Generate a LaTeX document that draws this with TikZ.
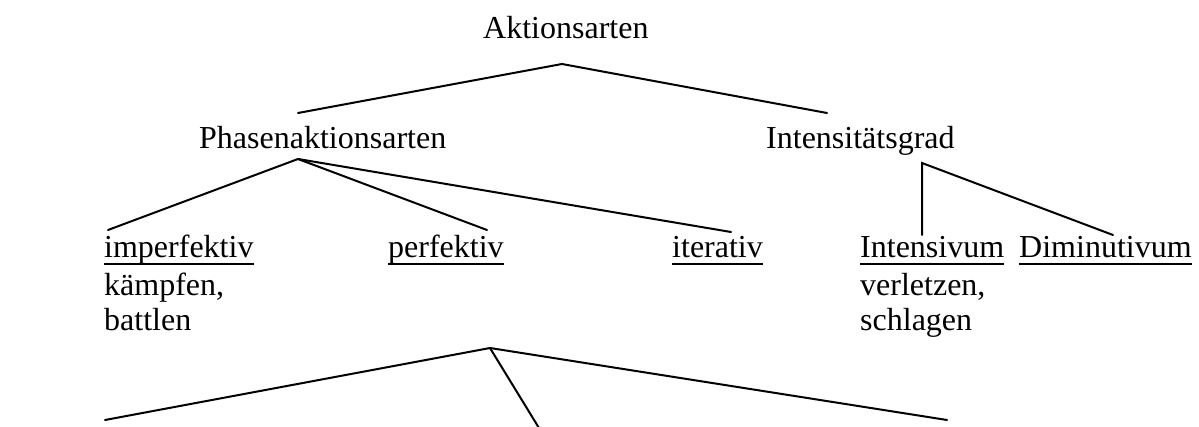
\documentclass[tikz,border=0pt]{standalone}
\usepackage{fontspec}
\setmainfont{Liberation Serif}
\begin{document}
\begin{tikzpicture}[x=1pt,y=-1pt,
  lbl/.style={anchor=base west,inner sep=0pt,font=\fontsize{32}{37}\selectfont},
  branch/.style={line width=2pt,line cap=round,line join=miter},
  uline/.style={line width=2.4pt}]
\useasboundingbox (0,0) rectangle (1199,427);

% labels
\node[lbl] (akt) at (483,39) {Aktionsarten};
\node[lbl] (pha) at (199,149) {Phasenaktionsarten};
\node[lbl] (int) at (766,149) {Intensitätsgrad};
\node[lbl] (imp) at (104,258) {imperfektiv};
\node[lbl] (perf) at (388,258) {perfektiv};
\node[lbl] (iter) at (672,258) {iterativ};
\node[lbl] (intv) at (860,258) {Intensivum};
\node[lbl] (dim) at (1019,258) {Diminutivum};
\node[lbl] (kae) at (104,296) {kämpfen,};
\node[lbl] (bat) at (104,331) {battlen};
\node[lbl] (ver) at (860,296) {verletzen,};
\node[lbl] (sch) at (860,331) {schlagen};

% underlined category names
\foreach \n in {imp,perf,iter,intv,dim}
  \draw[uline] ([yshift=-6pt]\n.base west) -- ([yshift=-6pt]\n.base east);

% branching points
\coordinate (aktR) at (562,64);
\coordinate (aktL1) at (298,113);
\coordinate (aktL2) at (827,113);
\coordinate (phaR) at (298,159);
\coordinate (phaL1) at (108,230);
\coordinate (phaL2) at (487,230);
\coordinate (phaL3) at (731,232);
\coordinate (intR) at (922,163);
\coordinate (intL1) at (922,235);
\coordinate (intL2) at (1113,235);
\coordinate (perR) at (490,348);
\coordinate (perL1) at (105,420);
\coordinate (perL2) at (539,428);
\coordinate (perL3) at (947,420);

% branches
\draw[branch] (aktL1) -- (aktR) -- (aktL2);
\draw[branch] (phaR) -- (phaL1);
\draw[branch] (phaR) -- (phaL2);
\draw[branch] (phaR) -- (phaL3);
\draw[branch] (intL1) -- (intR) -- (intL2);
\draw[branch] (perL1) -- (perR) -- (perL3);
\draw[branch] (perR) -- (perL2);
\end{tikzpicture}
\end{document}
